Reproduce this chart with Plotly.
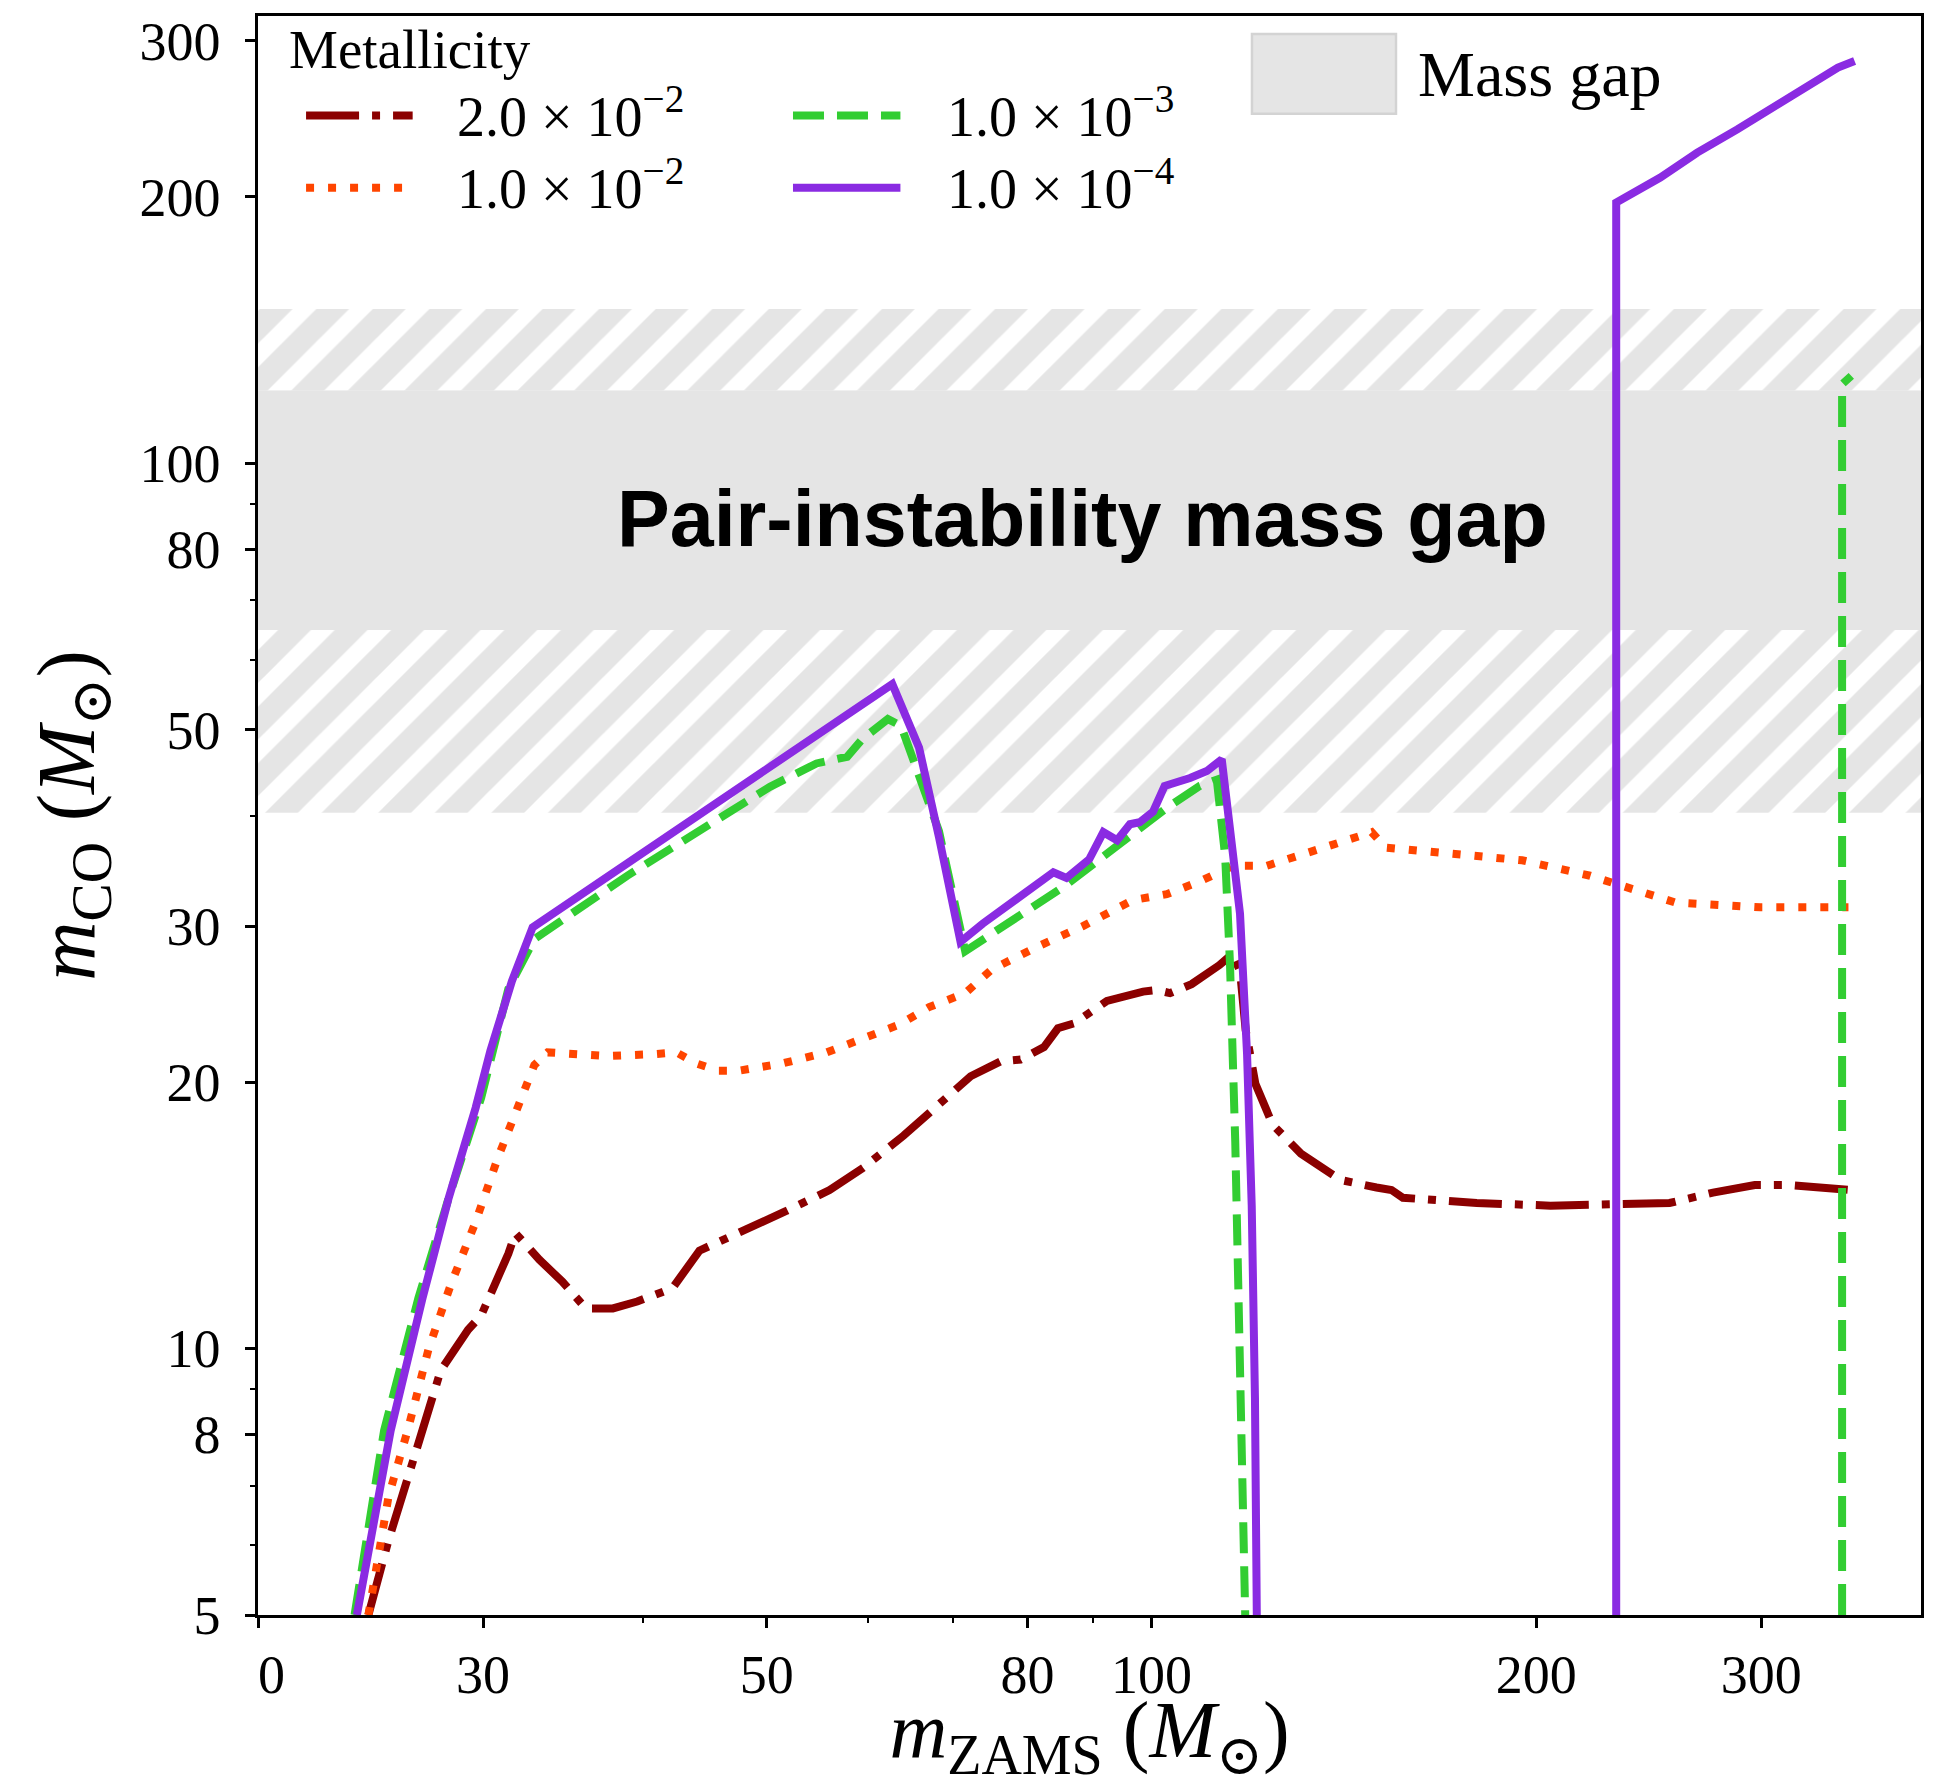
import math
import plotly.graph_objects as go

# ---------------- data ----------------
X_RANGE = [20, 400]
Y_RANGE = [5, 320]

RED_X = [24.4, 25.3, 26.5, 27.3, 27.8, 29.2, 29.9, 31.4, 31.8, 33.2, 34.6, 36.1, 37.9, 39.6, 42.2,
         44.3, 47.6, 51.8, 56.0, 59.5, 64.0, 67.5, 72.2, 76.2, 79.0, 82.4, 84.5, 87.0, 92.3, 98.5,
         101.0, 103.4, 107.5, 113.0, 115.7, 117.3, 118.5, 120.6, 124.4, 130.9, 140.6, 150.0, 154.1,
         157.3, 179.7, 205.2, 232.0, 254.3, 275.0, 296.5, 315.3, 352.8]
RED_Y = [5.0, 6.07, 7.54, 8.59, 9.45, 10.5, 10.9, 12.8, 13.5, 12.6, 11.9, 11.1, 11.1, 11.3, 11.7,
         12.9, 13.5, 14.3, 15.1, 16.0, 17.4, 18.6, 20.3, 21.1, 21.2, 21.9, 23.0, 23.3, 24.7, 25.3,
         25.4, 25.2, 25.8, 27.1, 27.9, 26.7, 22.9, 19.9, 17.9, 16.6, 15.5, 15.2, 15.1,
         14.8, 14.6, 14.5, 14.6, 14.6, 15.0, 15.3, 15.3, 15.1]

ORANGE_X = [24.4, 25.3, 26.2, 27.2, 28.3, 29.6, 30.8, 32.2, 32.9, 33.7, 37.5, 40.8, 42.5, 44.0, 45.8,
            47.6, 51.5, 55.7, 59.4, 63.4, 67.0, 71.5, 75.0, 79.3, 81.7, 88.4, 96.7, 102.8, 109.1,
            115.9, 123.1, 134.8, 148.7, 152.5, 170.7, 195.0, 220.4, 244.1, 256.9, 299.5, 351.0]
ORANGE_Y = [5.0, 6.8, 8.1, 10.0, 11.8, 13.9, 16.4, 19.2, 20.9, 21.6, 21.4, 21.5, 21.6, 21.0, 20.6,
            20.6, 21.0, 21.6, 22.4, 23.2, 24.3, 25.2, 26.8, 28.0, 28.5, 30.0, 32.1, 32.6, 33.7,
            35.1, 35.1, 36.6, 38.3, 36.8, 36.3, 35.6, 34.2, 32.6, 31.9, 31.5, 31.5]

GREEN_X = [23.8, 25.1, 26.7, 28.2, 29.9, 31.4, 32.9, 38.9, 45.9, 50.3, 54.7, 57.8, 59.4, 62.2, 63.7,
           66.4, 68.2, 71.5, 76.0, 80.7, 85.8, 91.1, 96.7, 102.8, 109.1, 112.5, 114.2, 115.2, 116.3,
           117.3, 118.4, None, 347.0, 347.0, 352.8]
GREEN_Y = [5.0, 8.08, 11.4, 14.8, 19.2, 25.5, 29.0, 34.2, 39.7, 43.1, 45.8, 46.6, 48.8, 51.4, 50.5,
           43.1, 38.4, 28.1, 29.8, 31.5, 33.4, 35.7, 38.2, 40.8, 43.2, 43.9, 36.0, 27.2, 17.1,
           10.4, 5.0, None, 5.0, 122.8, 125.5]

PURPLE_X = [23.9, 25.4, 26.9, 28.2, 29.6, 30.4, 31.6, 32.8, 62.7, 65.8, 68.2, 70.9, 73.8, 77.8, 79.8,
            81.7, 83.8, 85.8, 89.4, 91.7, 94.0, 96.2, 97.9, 100.3, 102.4, 107.2, 110.5, 113.5, 117.3,
            118.8, 119.8, 120.5, 120.9, None, 231.0, 231.0, 250.1, 267.3, 287.3, 305.2, 324.3,
            344.4, 354.9]
PURPLE_Y = [5.0, 8.08, 11.4, 14.8, 18.7, 21.7, 26.0, 29.9, 56.3, 47.7, 37.8, 28.8, 30.2, 31.9, 32.7,
            33.7, 34.5, 34.0, 35.7, 38.3, 37.5, 39.1, 39.3, 40.4, 43.2, 44.1, 44.9, 46.3, 31.0,
            21.5, 14.5, 8.8, 5.0, None, 5.0, 197.0, 210.2, 224.3, 238.3, 251.0, 264.5,
            279.8, 284.7]

# mass-gap bands (m_CO, Msun)
HATCH_LOW = [40.3, 64.8]
GAP_SOLID = [64.8, 120.9]
HATCH_HIGH = [120.9, 149.3]

SERIES_LABELS = ["2.0 × 10<sup>−2</sup>", "1.0 × 10<sup>−2</sup>",
                 "1.0 × 10<sup>−3</sup>", "1.0 × 10<sup>−4</sup>"]

X_TICKS = [20, 30, 50, 80, 100, 200, 300]
X_TICKTEXT = ["&nbsp;&nbsp;0", "30", "50", "80", "100", "200", "300"]
X_MINOR = [40, 60, 70, 90]
Y_TICKS = [5, 8, 10, 20, 30, 50, 80, 100, 200, 300]
Y_TICKTEXT = ["5", "8", "10", "20", "30", "50", "80", "100", "200", "300"]
Y_MINOR = [6, 7, 9, 40, 60, 70, 90]

# ---------------- styles ----------------
SERIF = "Liberation Serif, DejaVu Serif, serif"
GAP_GREY = "#e5e5e5"
LW = 8
STYLES = [
    dict(color="#8b0000", dash="53px,13px,8px,13px"),
    dict(color="#ff4500", dash="8px,14px"),
    dict(color="#32cd32", dash="31px,13px"),
    dict(color="#8a2be2", dash="solid"),
]
SERIES = [(RED_X, RED_Y), (ORANGE_X, ORANGE_Y), (GREEN_X, GREEN_Y), (PURPLE_X, PURPLE_Y)]

fig = go.Figure()


def band(lo_hi, hatched):
    xs = [X_RANGE[0], X_RANGE[1], X_RANGE[1], X_RANGE[0], X_RANGE[0]]
    ys = [lo_hi[0], lo_hi[0], lo_hi[1], lo_hi[1], lo_hi[0]]
    kw = dict(x=xs, y=ys, mode="lines", fill="toself", line=dict(width=0, color=GAP_GREY),
              fillcolor=GAP_GREY, showlegend=False, hoverinfo="skip")
    if hatched:
        kw["fillpattern"] = dict(shape="/", bgcolor=GAP_GREY, fgcolor="#ffffff", fgopacity=1,
                                 size=40, solidity=0.42)
    fig.add_trace(go.Scatter(**kw))


band(GAP_SOLID, False)
band(HATCH_LOW, True)
band(HATCH_HIGH, True)

for (xs, ys), st, lab in zip(SERIES, STYLES, SERIES_LABELS):
    fig.add_trace(go.Scatter(x=xs, y=ys, mode="lines", name=lab, showlegend=False,
                             connectgaps=False,
                             line=dict(color=st["color"], width=LW, dash=st["dash"])))

# ---------------- manual legends ----------------
shapes = []
annotations = []
annotations.append(dict(text="Metallicity", xref="paper", yref="paper", x=0.0174, y=0.9788,
                        xanchor="left", yanchor="middle", showarrow=False,
                        font=dict(family=SERIF, size=55, color="black")))
leg_cols = [(0.0289, 0.0930, 0.1185), (0.3217, 0.3863, 0.4131)]
leg_rows = [0.9378, 0.8926]
for i, (st, lab) in enumerate(zip(STYLES, SERIES_LABELS)):
    c0, c1, tx = leg_cols[i // 2]
    ry = leg_rows[i % 2]
    shapes.append(dict(type="line", xref="paper", yref="paper", x0=c0, x1=c1, y0=ry, y1=ry,
                       line=dict(color=st["color"], width=LW, dash=st["dash"])))
    annotations.append(dict(text=lab, xref="paper", yref="paper", x=tx, y=ry + 0.002,
                            xanchor="left", yanchor="middle", showarrow=False,
                            font=dict(family=SERIF, size=56, color="black")))

shapes.append(dict(type="rect", xref="paper", yref="paper", x0=0.5977, x1=0.6843,
                   y0=0.9389, y1=0.9888, fillcolor=GAP_GREY,
                   line=dict(color="#d3d3d3", width=2.5)))
annotations.append(dict(text="Mass gap", xref="paper", yref="paper", x=0.6961, y=0.9635,
                        xanchor="left", yanchor="middle", showarrow=False,
                        font=dict(family=SERIF, size=64, color="black")))

annotations.append(dict(text="<b>Pair-instability mass gap</b>", xref="paper", yref="paper",
                        x=0.4955, y=0.6856, xanchor="center", yanchor="middle", showarrow=False,
                        font=dict(family="Liberation Sans, Arial, sans-serif", size=79,
                                  color="black")))

axis_common = dict(type="log", showgrid=False, zeroline=False, showline=True, mirror=True,
                   linecolor="black", linewidth=2.5, ticks="outside", ticklen=10, tickwidth=2.5,
                   tickcolor="black", tickfont=dict(family=SERIF, size=54, color="black"))

fig.update_layout(
    width=1937, height=1786, autosize=False,
    margin=dict(l=258, r=16, t=16, b=167, pad=0),
    paper_bgcolor="white", plot_bgcolor="white",
    showlegend=False,
    shapes=shapes, annotations=annotations,
    xaxis=dict(axis_common, range=[math.log10(X_RANGE[0]), math.log10(X_RANGE[1])],
               tickmode="array", tickvals=X_TICKS, ticktext=X_TICKTEXT,
               minor=dict(tickmode="array", tickvals=X_MINOR, ticks="outside", ticklen=5,
                          tickwidth=2, tickcolor="black", showgrid=False),
               title=dict(text="<i>m</i><sub>ZAMS</sub> (<i>M</i><sub>⊙</sub>)",
                          font=dict(family=SERIF, size=80, color="black"), standoff=13)),
    yaxis=dict(axis_common, range=[math.log10(Y_RANGE[0]), math.log10(Y_RANGE[1])],
               tickmode="array", tickvals=Y_TICKS, ticktext=Y_TICKTEXT, ticklabelstandoff=14,
               minor=dict(tickmode="array", tickvals=Y_MINOR, ticks="outside", ticklen=5,
                          tickwidth=2, tickcolor="black", showgrid=False),
               title=dict(text="<i>m</i><sub>CO</sub> (<i>M</i><sub>⊙</sub>)",
                          font=dict(family=SERIF, size=82, color="black"), standoff=18)),
)

fig.write_html("out.html")
